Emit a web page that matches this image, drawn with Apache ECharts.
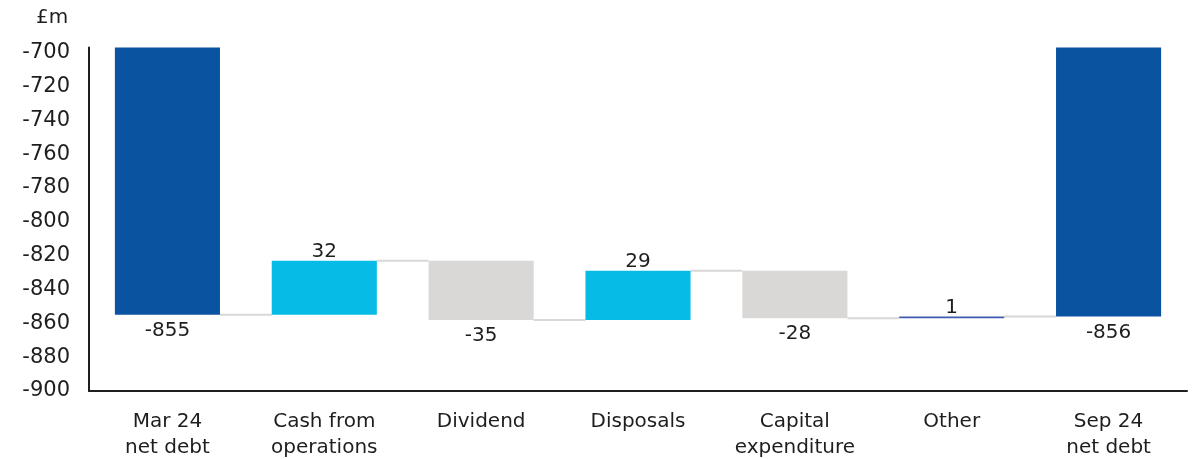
<!DOCTYPE html>
<html>
<head>
<meta charset="utf-8">
<script src="https://cdn.jsdelivr.net/npm/echarts@6/dist/echarts.min.js"></script>
<style>
    html, body { margin: 0; padding: 0; background: #fff; }
    #myChart { width: 1192px; height: 459px; }
</style>
</head>
<body>
<div id="myChart"></div>
<script>
    // chart data
    var categories = ['Mar 24\nnet debt', 'Cash from\noperations', 'Dividend', 'Disposals', 'Capital\nexpenditure', 'Other', 'Sep 24\nnet debt'];
    var values = [-855, 32, -35, 29, -28, 1, -856];
    var kinds = ['total', 'up', 'down', 'up', 'down', 'other', 'total'];
    var yTicks = [-900, -880, -860, -840, -820, -800, -780, -760, -740, -720, -700];

    var colors = {total: '#0A53A0', up: '#07BBE7', down: '#D9D8D6', other: '#3C5DAF'};
    var font = 'DejaVu Sans';

    // build helper (invisible base) + visible parts of the waterfall
    var base = [], visible = [], levels = [];
    var level = 0;
    for (var i = 0; i < values.length; i++) {
        if (kinds[i] === 'total') {
            base.push(0);
            level = values[i];
        } else {
            base.push(level);
            level = level + values[i];
        }
        levels.push(level);
        var up = values[i] > 0;
        visible.push({
            value: values[i],
            itemStyle: {color: colors[kinds[i]]},
            label: {position: up ? 'top' : 'bottom', distance: up ? -1 : 6}
        });
    }
    // connector lines between bar i and i+1, at running level
    var connectors = [];
    for (var j = 0; j < levels.length - 1; j++) {
        connectors.push([j, levels[j]]);
    }

    var myChart = echarts.init(document.getElementById('myChart'));
    myChart.setOption({
        animation: false,
        title: {
            text: '£m',
            left: 31,
            top: 3,
            textStyle: {fontFamily: font, fontSize: 20, fontWeight: 'normal', color: '#1e1e1e'}
        },
        grid: {left: 89, right: 5, top: 47.5, bottom: 68, outerBoundsMode: 'none'},
        xAxis: {
            type: 'category',
            data: categories,
            axisLine: {lineStyle: {color: '#1e1e1e', width: 2}},
            axisTick: {show: false},
            axisLabel: {
                margin: 18,
                fontFamily: font,
                fontSize: 20,
                lineHeight: 26,
                color: '#1e1e1e'
            }
        },
        yAxis: {
            type: 'value',
            min: yTicks[0],
            max: -697,
            interval: 20,
            splitLine: {show: false},
            axisTick: {show: false},
            axisLine: {show: true, lineStyle: {color: '#1e1e1e', width: 2}},
            axisLabel: {
                margin: 19,
                showMaxLabel: false,
                fontFamily: font,
                fontSize: 21,
                color: '#1e1e1e'
            }
        },
        series: [
            {
                type: 'bar',
                stack: 'wf',
                stackStrategy: 'all',
                barCategoryGap: '33%',
                itemStyle: {color: 'transparent'},
                silent: true,
                data: base
            },
            {
                type: 'bar',
                stack: 'wf',
                stackStrategy: 'all',
                barCategoryGap: '33%',
                label: {
                    show: true,
                    fontFamily: font,
                    fontSize: 20,
                    color: '#1e1e1e'
                },
                data: visible
            },
            {
                type: 'custom',
                silent: true,
                z: 1,
                renderItem: function (params, api) {
                    var p1 = api.coord([api.value(0), api.value(1)]);
                    var p2 = api.coord([api.value(0) + 1, api.value(1)]);
                    var half = api.size([1, 0])[0] * 0.67 / 2;
                    return {
                        type: 'line',
                        shape: {x1: p1[0] + half, y1: p1[1], x2: p2[0] - half, y2: p2[1]},
                        style: {stroke: '#D9D8D6', lineWidth: 2}
                    };
                },
                data: connectors
            }
        ]
    });
</script>
</body>
</html>
